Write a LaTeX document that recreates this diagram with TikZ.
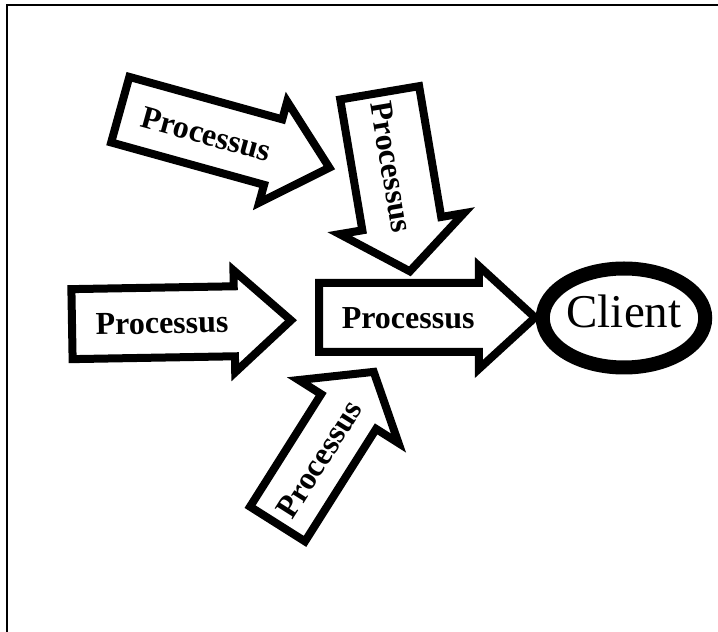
\documentclass[tikz,border=0pt]{standalone}
\usepackage{fontspec}
\setmainfont{Liberation Serif}
\usetikzlibrary{shapes.arrows}
\usetikzlibrary{shapes.geometric}
\usetikzlibrary{positioning}

\begin{document}
\begin{tikzpicture}[x=1pt,y=1pt,every node/.style={draw,fill=white,line width=8pt,inner sep=0pt},
  proc/.style={single arrow,anchor=tail,text height=22pt,text depth=0pt,font=\fontsize{32}{36}\selectfont\bfseries}]
  \useasboundingbox (0,0) rectangle (718,632);
  \draw[line width=2pt] (7,-10) -- (7,627) -- (730,627);

  \node (p1) at (116.4,523.4) [proc,rotate=-15.5,inner ysep=19pt,minimum height=217pt,minimum width=97pt,single arrow head extend=18.5pt,single arrow tip angle=84]{Processus};
  \node (p2) at (379,543.1) [proc,rotate=-80.4,inner ysep=25pt,minimum height=181pt,minimum width=118pt,single arrow head extend=23pt,single arrow tip angle=105]{Processus};
  \node (p3) at (68,307.8) [proc,rotate=1,inner ysep=20pt,minimum height=219pt,minimum width=94pt,single arrow head extend=16pt,single arrow tip angle=84]{Processus};
  \node (p4) at (315,314.5) [proc,inner ysep=19.5pt,minimum height=216pt,minimum width=95pt,single arrow head extend=17pt,single arrow tip angle=85]{Processus};
  \node (p5) at (275.4,104.6) [proc,rotate=57.7,inner ysep=17.5pt,minimum height=180pt,minimum width=110pt,single arrow head extend=26.5pt,single arrow tip angle=103]{Processus};

  \node (client) at (624,314) [ellipse,line width=14pt,minimum width=144pt,minimum height=99pt,text depth=14pt,font=\fontsize{47}{50}\selectfont]{Client};
\end{tikzpicture}
\end{document}
